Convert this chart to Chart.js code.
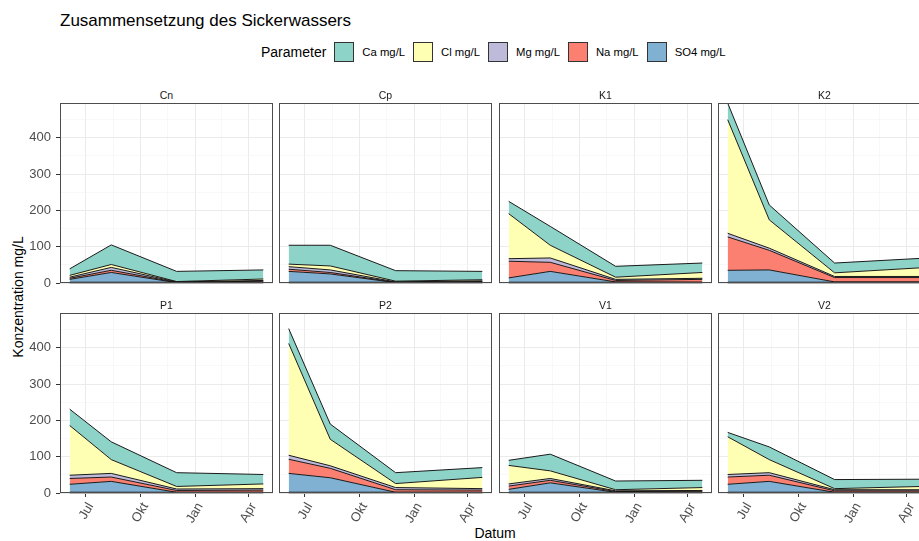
<!DOCTYPE html>
<html>
<head>
<meta charset="utf-8">
<script src="https://cdn.jsdelivr.net/npm/chart.js@4.4.1/dist/chart.umd.min.js"></script>
<style>
html,body{margin:0;padding:0;background:#fff;}
body{width:919px;height:541px;overflow:hidden;position:relative;font-family:'Liberation Sans',Arial,sans-serif;}
.abs{position:absolute;white-space:nowrap;}
#title{left:60px;top:11px;font-size:17px;line-height:20px;color:#000;}
#legend{left:261px;top:42px;height:20px;display:flex;align-items:center;}
#legend .lt{font-size:14px;color:#000;margin-right:8px;}
#legend .key{width:18px;height:18px;border:1px solid #333;box-sizing:content-box;margin-right:8px;}
#legend .lab{font-size:11.3px;color:#000;margin-right:8px;}
.strip{font-size:10.5px;line-height:12px;color:#1a1a1a;text-align:center;}
#ytitle{font-size:14px;line-height:16px;color:#000;left:18px;top:297px;transform:translate(-50%,-50%) rotate(-90deg);}
#xtitle{font-size:14px;line-height:16px;color:#000;left:495px;top:533px;transform:translate(-50%,-50%);}
</style>
</head>
<body>
<div id="title" class="abs">Zusammensetzung des Sickerwassers</div>
<div id="legend" class="abs"></div>
<div id="ytitle" class="abs">Konzentration mg/L</div>
<div id="xtitle" class="abs">Datum</div>
<script>
// ---------------- data ----------------
const panelNames = ['Cn', 'Cp', 'K1', 'K2', 'P1', 'P2', 'V1', 'V2'];
const sampleDates = ['2021-06-04', '2021-08-13', '2021-12-01', '2022-04-26'];
// one row per panel (same order as panelNames), one value per sample date
const so4Values = [[10, 29, 1, 2], [32, 25, 1, 2], [14, 32, 3, 2], [35, 36, 3, 3], [24, 32, 2, 2], [54, 42, 2, 2], [10, 28, 2, 2], [24, 32, 2, 2]];
const naValues  = [[3, 6, 1, 3], [6, 4, 1, 2], [46, 25, 4, 8], [92, 54, 12, 12], [16, 12, 5, 6], [39, 26, 7, 6], [9, 7, 2, 3], [20, 17, 4, 4]];
const mgValues  = [[3, 8, 1, 2], [7, 7, 1, 2], [7, 12, 3, 3], [10, 6, 3, 3], [9, 10, 4, 4], [11, 7, 6, 4], [6, 5, 2, 2], [7, 7, 3, 3]];
const clValues  = [[5, 8, 1, 4], [7, 11, 2, 3], [124, 35, 6, 16], [313, 78, 10, 24], [137, 38, 7, 13], [308, 73, 11, 31], [51, 21, 3, 8], [104, 36, 3, 9]];
const caValues  = [[18, 54, 28, 25], [52, 57, 29, 23], [34, 52, 30, 26], [46, 41, 27, 26], [45, 49, 38, 26], [41, 42, 30, 27], [14, 46, 24, 20], [12, 35, 25, 20]];
const legendOrder = ['Ca mg/L', 'Cl mg/L', 'Mg mg/L', 'Na mg/L', 'SO4 mg/L'];
const yTickValues = [0, 100, 200, 300, 400];
const xTickDates = ['2021-07-01', '2021-10-01', '2022-01-01', '2022-04-01'];
const xTickLabels = ['Jul', 'Okt', 'Jan', 'Apr'];

// ---------------- styles ----------------
const seriesStyle = {
  'SO4 mg/L': '#80B1D3',
  'Na mg/L': '#FB8072',
  'Mg mg/L': '#BEBADA',
  'Cl mg/L': '#FFFFB3',
  'Ca mg/L': '#8DD3C7'
};
const stackOrder = [
  ['SO4 mg/L', so4Values],
  ['Na mg/L', naValues],
  ['Mg mg/L', mgValues],
  ['Cl mg/L', clValues],
  ['Ca mg/L', caValues]
];

const DAY = 86400000;
const ORIGIN = Date.UTC(2021, 6, 1);
function dayNum(s) {
  const p = s.split('-').map(Number);
  return (Date.UTC(p[0], p[1] - 1, p[2]) - ORIGIN) / DAY;
}
const sampleX = sampleDates.map(dayNum);
const xMajor = xTickDates.map(dayNum);
const span = sampleX[sampleX.length - 1] - sampleX[0];
const xMin = sampleX[0] - 0.05 * span;
const xMax = sampleX[sampleX.length - 1] + 0.05 * span;
const xMinor = [];
for (let i = 0; i < xMajor.length - 1; i++) xMinor.push((xMajor[i] + xMajor[i + 1]) / 2);

let yMax = 0;
for (let p = 0; p < panelNames.length; p++) {
  for (let j = 0; j < sampleX.length; j++) {
    let s = 0;
    stackOrder.forEach(([, arr]) => { s += arr[p][j]; });
    yMax = Math.max(yMax, s);
  }
}
const yStep = yTickValues[1] - yTickValues[0];
const yMinor = [];
yTickValues.forEach(v => { if (v + yStep / 2 < yMax) yMinor.push(v + yStep / 2); });

// ---------------- legend ----------------
const legend = document.getElementById('legend');
legend.innerHTML = '<span class="lt">Parameter</span>' + legendOrder.map(n =>
  `<span class="key" style="background:${seriesStyle[n]}"></span><span class="lab">${n}</span>`).join('');

// ---------------- panels ----------------
const PAD = 18, PW = 213, PH = 180;
const colLeft = [60, 279, 499, 718];
const rowTop = [103, 313];

const framePlugin = {
  id: 'panelFrame',
  afterDatasetsDraw(chart) {
    const { ctx, chartArea: a, scales } = chart;
    const meta = chart.getDatasetMeta(0);
    const y0 = scales.y.getPixelForValue(0);
    ctx.save();
    ctx.strokeStyle = '#000';
    ctx.lineWidth = 1.4;
    ctx.beginPath();
    ctx.moveTo(meta.data[0].x, y0 - 0.5);
    ctx.lineTo(meta.data[meta.data.length - 1].x, y0 - 0.5);
    ctx.stroke();
    ctx.strokeStyle = '#4d4d4d';
    ctx.lineWidth = 1;
    ctx.strokeRect(Math.round(a.left) + 0.5, Math.round(a.top) + 0.5, Math.round(a.width) - 1, Math.round(a.height) - 1);
    ctx.restore();
  }
};

panelNames.forEach((name, p) => {
  const col = p % 4, row = Math.floor(p / 4);
  const L = colLeft[col], T = rowTop[row];
  const yW = col === 0 ? L - PAD : 0;
  const xH = row === 1 ? 50 : 0;
  const cw = PAD + yW + PW + PAD, ch = PAD + PH + xH + PAD;

  const strip = document.createElement('div');
  strip.className = 'abs strip';
  strip.style.left = L + 'px';
  strip.style.width = PW + 'px';
  strip.style.top = (T - 14) + 'px';
  strip.textContent = name;
  document.body.appendChild(strip);

  const cv = document.createElement('canvas');
  cv.width = cw; cv.height = ch;
  cv.style.cssText = `position:absolute;left:${L - yW - PAD}px;top:${T - PAD}px;width:${cw}px;height:${ch}px;`;
  document.body.appendChild(cv);

  const datasets = stackOrder.map(([label, arr], k) => ({
    label,
    data: sampleX.map((x, j) => ({ x, y: arr[p][j] })),
    backgroundColor: seriesStyle[label],
    borderColor: '#1a1a1a',
    borderWidth: 1,
    pointRadius: 0,
    tension: 0,
    fill: k === 0 ? 'origin' : '-1'
  }));

  new Chart(cv, {
    type: 'line',
    data: { datasets },
    plugins: [framePlugin],
    options: {
      responsive: false,
      animation: false,
      devicePixelRatio: 1,
      layout: { padding: PAD },
      plugins: { legend: { display: false }, tooltip: { enabled: false } },
      scales: {
        x: {
          type: 'linear',
          min: xMin, max: xMax,
          border: { display: false },
          afterBuildTicks: s => {
            const t = xMajor.map(v => ({ value: v, minor: false })).concat(xMinor.map(v => ({ value: v, minor: true })));
            t.sort((a, b) => a.value - b.value);
            s.ticks = t;
          },
          afterFit: s => { s.height = xH; },
          grid: {
            color: c => (c.tick && c.tick.minor) ? '#F4F4F4' : '#EBEBEB',
            lineWidth: c => (c.tick && c.tick.minor) ? 0.6 : 1,
            drawTicks: row === 1,
            tickLength: 4,
            tickColor: c => (c.tick && c.tick.minor) ? 'rgba(0,0,0,0)' : '#333333'
          },
          ticks: {
            display: row === 1,
            autoSkip: false,
            minRotation: 60,
            maxRotation: 60,
            padding: 3,
            labelOffset: 5,
            color: '#4D4D4D',
            font: { family: "'Liberation Sans', Arial, sans-serif", size: 13 },
            callback: (v, i, ticks) => {
              if (ticks[i].minor) return '';
              const k = xMajor.indexOf(ticks[i].value);
              return k >= 0 ? xTickLabels[k] : '';
            }
          }
        },
        y: {
          stacked: true,
          min: 0, max: yMax,
          border: { display: false },
          afterBuildTicks: s => {
            const t = yTickValues.map(v => ({ value: v, minor: false })).concat(yMinor.map(v => ({ value: v, minor: true })));
            t.sort((a, b) => a.value - b.value);
            s.ticks = t;
          },
          afterFit: s => { s.width = yW; },
          grid: {
            color: c => (c.tick && c.tick.minor) ? '#F4F4F4' : '#EBEBEB',
            lineWidth: c => (c.tick && c.tick.minor) ? 0.6 : 1,
            drawTicks: col === 0,
            tickLength: 4,
            tickColor: c => (c.tick && c.tick.minor) ? 'rgba(0,0,0,0)' : '#333333'
          },
          ticks: {
            display: col === 0,
            autoSkip: false,
            padding: 5,
            color: '#4D4D4D',
            font: { family: "'Liberation Sans', Arial, sans-serif", size: 13 },
            callback: (v, i, ticks) => ticks[i].minor ? '' : String(ticks[i].value)
          }
        }
      }
    }
  });
});
</script>
</body>
</html>
